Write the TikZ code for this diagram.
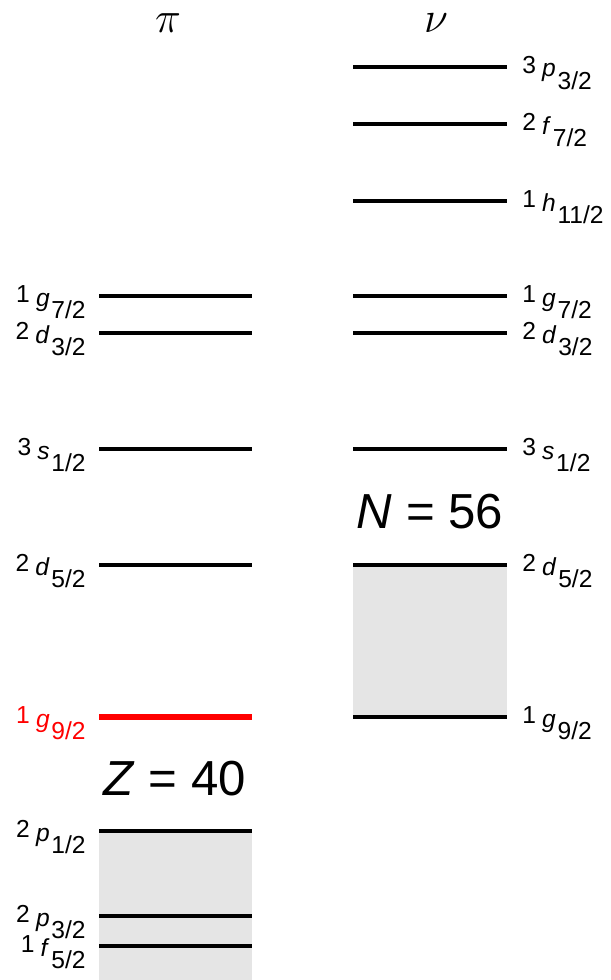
\documentclass[tikz,border=0pt]{standalone}
\usepackage{fontspec}
\setmainfont{Liberation Sans}
\usepackage{xcolor}
\usetikzlibrary{positioning}
\definecolor{ink}{HTML}{000000}
\definecolor{shell}{HTML}{E5E5E5}
\definecolor{hot}{HTML}{FF0000}
% n, l, j of one orbit
\newcommand{\orb}[3]{\raisebox{2pt}{#1}\kern3.5pt\textit{#2}\kern1pt\raisebox{-7pt}{#3}}
\tikzset{
  lvl/.style={line width=2.8pt, draw=ink},
  lvlthin/.style={line width=2.2pt, draw=ink},
  lvlhot/.style={line width=3.8pt, draw=hot},
  rlab/.style={anchor=base west, inner sep=0pt, font=\fontsize{14}{16}\selectfont},
  llab/.style={anchor=base east, inner sep=0pt, font=\fontsize{14}{16}\selectfont},
  magic/.style={anchor=base, inner sep=0pt, font=\fontsize{28}{32}\selectfont},
  head/.style={anchor=base, inner sep=0pt, font=\fontsize{28}{30}\selectfont},
}
\begin{document}
\begin{tikzpicture}[x=0.02cm, y=-0.02cm]
  \useasboundingbox (0,0) rectangle (610,980);
  % filled cores
  \fill[shell] (99,831) rectangle (252,980);
  \fill[shell] (353,565) rectangle (507,717);

  \node[head] (pi) at (168,33) {$\pi$};
  \node[head] (nu) at (436,33) {$\nu$};

  % protons
  \draw[lvl] (99,296) -- (252,296);
  \node[llab] (p1g7) at (86,306) {\orb{1}{g}{7/2}};
  \draw[lvl] (99,333) -- (252,333);
  \node[llab] (p2d3) at (86,343) {\orb{2}{d}{3/2}};
  \draw[lvl] (99,449) -- (252,449);
  \node[llab] (p3s1) at (86,459) {\orb{3}{s}{1/2}};
  \draw[lvl] (99,565) -- (252,565);
  \node[llab] (p2d5) at (86,575) {\orb{2}{d}{5/2}};
  \draw[lvlhot] (99,717) -- (252,717);
  \node[llab, text=hot] (p1g9) at (86,727) {\orb{1}{g}{9/2}};
  \node[magic] (zmag) at (175,795) {\textit{Z} = 40};
  \draw[lvl] (99,831) -- (252,831);
  \node[llab] (p2p1) at (86,841) {\orb{2}{p}{1/2}};
  \draw[lvl] (99,916) -- (252,916);
  \node[llab] (p2p3) at (86,926) {\orb{2}{p}{3/2}};
  \draw[lvl] (99,946) -- (252,946);
  \node[llab] (p1f5) at (86,956) {\orb{1}{f}{5/2}};

  % neutrons
  \draw[lvl] (353,67) -- (507,67);
  \node[rlab] (n3p3) at (522,77) {\orb{3}{p}{3/2}};
  \draw[lvl] (353,124) -- (507,124);
  \node[rlab] (n2f7) at (522,134) {\orb{2}{f}{7/2}};
  \draw[lvl] (353,201) -- (507,201);
  \node[rlab] (n1h11) at (522,211) {\orb{1}{h}{11/2}};
  \draw[lvl] (353,296) -- (507,296);
  \node[rlab] (n1g7) at (522,306) {\orb{1}{g}{7/2}};
  \draw[lvl] (353,333) -- (507,333);
  \node[rlab] (n2d3) at (522,343) {\orb{2}{d}{3/2}};
  \draw[lvl] (353,449) -- (507,449);
  \node[rlab] (n3s1) at (522,459) {\orb{3}{s}{1/2}};
  \node[magic] (nmag) at (430,528) {\textit{N} = 56};
  \draw[lvl] (353,565) -- (507,565);
  \node[rlab] (n2d5) at (522,575) {\orb{2}{d}{5/2}};
  \draw[lvlthin] (353,717) -- (507,717);
  \node[rlab] (n1g9) at (522,727) {\orb{1}{g}{9/2}};
\end{tikzpicture}
\end{document}
